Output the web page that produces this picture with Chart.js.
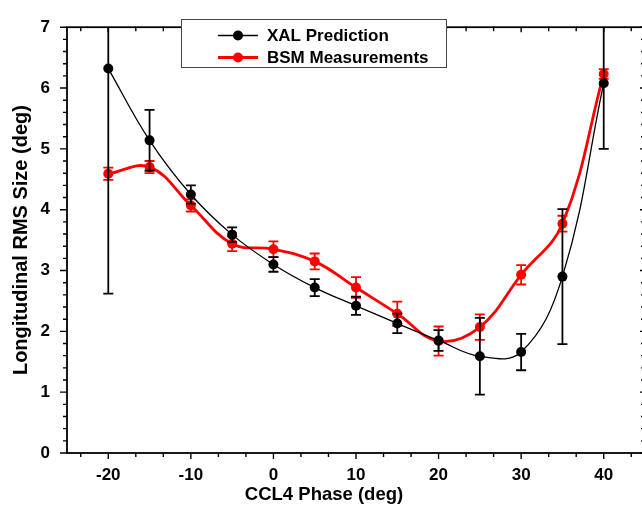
<!DOCTYPE html>
<html lang="en">
  <head>
    <meta charset="UTF-8" />
    <meta name="viewport" content="width=device-width, initial-scale=1.0" />
    <script src="https://cdn.jsdelivr.net/npm/chart.js@4.4.0/dist/chart.umd.min.js"></script>
    <title>Longitudinal RMS Size vs CCL4 Phase</title>
    <style>
      body {
        margin: 0;
        padding: 0;
        background: white;
        overflow: hidden;
      }

      .container {
        width: 650px;
        height: 506px;
      }
    </style>
  </head>
  <body>
    <div class="container">
      <canvas id="rmsChart" width="650" height="506"></canvas>
    </div>
    <script>
      // CCL4 phase (deg)
      const phase = [-20, -15, -10, -5, 0, 5, 10, 15, 20, 25, 30, 35, 40]
      // XAL prediction and its error
      const xal = [6.32, 5.14, 4.25, 3.59, 3.1, 2.72, 2.42, 2.13, 1.85, 1.59, 1.66, 2.9, 6.08]
      const xalErr = [3.7, 0.5, 0.15, 0.12, 0.12, 0.14, 0.15, 0.16, 0.17, 0.63, 0.3, 1.11, 1.08]
      // BSM measurements and their error
      const bsm = [4.59, 4.7, 4.07, 3.44, 3.35, 3.15, 2.72, 2.29, 1.84, 2.07, 2.93, 3.77, 6.23]
      const bsmErr = [0.1, 0.1, 0.1, 0.12, 0.13, 0.13, 0.17, 0.2, 0.24, 0.21, 0.16, 0.13, 0.08]

      const xTicks = [-20, -10, 0, 10, 20, 30, 40]
      const yTicks = [0, 1, 2, 3, 4, 5, 6, 7]

      const FONT = "'Liberation Sans', Arial, sans-serif"

      const points = (ys) => phase.map((x, i) => ({ x: x, y: ys[i] }))

      // vertical error bars with caps, drawn under each dataset's line
      const errorBars = {
        id: 'errorBars',
        beforeDatasetDraw(chart, args) {
          const ds = chart.data.datasets[args.index]
          if (!ds.errors) return
          const { ctx, chartArea: a, scales } = chart
          const x = scales.x
          const y = scales.y
          ctx.save()
          ctx.beginPath()
          ctx.rect(a.left, a.top, a.right - a.left, a.bottom - a.top)
          ctx.clip()
          ctx.strokeStyle = ds.borderColor
          ctx.lineWidth = 1.8
          ctx.beginPath()
          ds.data.forEach((p, i) => {
            const px = x.getPixelForValue(p.x)
            const hi = y.getPixelForValue(p.y + ds.errors[i])
            const lo = y.getPixelForValue(p.y - ds.errors[i])
            ctx.moveTo(px, hi)
            ctx.lineTo(px, lo)
            ctx.moveTo(px - 5, hi)
            ctx.lineTo(px + 5, hi)
            ctx.moveTo(px - 5, lo)
            ctx.lineTo(px + 5, lo)
          })
          ctx.stroke()
          ctx.restore()
        },
      }

      // box frame with major / minor ticks on all four sides
      const frameTicks = {
        id: 'frameTicks',
        afterDatasetsDraw(chart) {
          const { ctx, chartArea: a, scales } = chart
          const x = scales.x
          const y = scales.y
          ctx.save()
          ctx.strokeStyle = '#000'
          ctx.lineWidth = 1.8
          ctx.strokeRect(a.left, a.top, a.right - a.left, a.bottom - a.top)
          ctx.lineWidth = 1.4
          ctx.beginPath()
          const xt = (v, out, inn) => {
            const px = x.getPixelForValue(v)
            ctx.moveTo(px, a.bottom)
            ctx.lineTo(px, a.bottom + out)
            ctx.moveTo(px, a.top)
            ctx.lineTo(px, a.top + inn)
          }
          const yt = (v, out, inn) => {
            const py = y.getPixelForValue(v)
            ctx.moveTo(a.left, py)
            ctx.lineTo(a.left - out, py)
            ctx.moveTo(a.right, py)
            ctx.lineTo(a.right - inn, py)
          }
          for (let k = -25; k <= 45; k++) {
            const v = (k * 10) / 3
            if (v < x.min || v > x.max) continue
            if (k % 3 === 0) xt(v, 6, 5)
            else xt(v, 4, 4)
          }
          for (let k = 0; k <= 35; k++) {
            if (k % 5 === 0) yt(k / 5, 7, 5)
            else yt(k / 5, 4, 4)
          }
          ctx.stroke()
          ctx.restore()
        },
      }

      // legend box + x axis title
      const legendBox = {
        id: 'legendBox',
        afterDraw(chart) {
          const ctx = chart.ctx
          ctx.save()
          ctx.fillStyle = '#fff'
          ctx.fillRect(182, 19.5, 265, 48)
          ctx.strokeStyle = '#444'
          ctx.lineWidth = 1
          ctx.strokeRect(181.5, 19.5, 265, 48)
          const rows = [
            { label: 'XAL Prediction', color: '#000', width: 1.6, y: 35.5 },
            { label: 'BSM Measurements', color: '#ff0000', width: 2.8, y: 57.5 },
          ]
          rows.forEach((r) => {
            ctx.strokeStyle = r.color
            ctx.lineWidth = r.width
            ctx.beginPath()
            ctx.moveTo(218, r.y)
            ctx.lineTo(258, r.y)
            ctx.stroke()
            ctx.fillStyle = r.color
            ctx.beginPath()
            ctx.arc(238, r.y, 5, 0, Math.PI * 2)
            ctx.fill()
            ctx.fillStyle = '#000'
            ctx.font = 'bold 17px ' + FONT
            ctx.textAlign = 'left'
            ctx.textBaseline = 'middle'
            ctx.fillText(r.label, 267, r.y + 1)
          })
          ctx.fillStyle = '#000'
          ctx.font = 'bold 18.5px ' + FONT
          ctx.textAlign = 'center'
          ctx.textBaseline = 'middle'
          ctx.fillText('CCL4 Phase (deg)', 324, 495)
          ctx.restore()
        },
      }

      const ctx = document.getElementById('rmsChart').getContext('2d')
      const chart = new Chart(ctx, {
        type: 'line',
        data: {
          datasets: [
            {
              label: 'XAL Prediction',
              data: points(xal),
              errors: xalErr,
              borderColor: '#000000',
              backgroundColor: '#000000',
              borderWidth: 1.3,
              pointRadius: 5,
              pointBorderWidth: 0,
              tension: 0.4,
            },
            {
              label: 'BSM Measurements',
              data: points(bsm),
              errors: bsmErr,
              borderColor: '#ff0000',
              backgroundColor: '#ff0000',
              borderWidth: 2.8,
              pointRadius: 5,
              pointBorderWidth: 0,
              tension: 0.4,
            },
          ],
        },
        options: {
          responsive: false,
          animation: false,
          events: [],
          layout: { padding: { top: 16, right: 4, bottom: 0, left: 0 } },
          plugins: {
            legend: { display: false },
            tooltip: { enabled: false },
          },
          scales: {
            x: {
              type: 'linear',
              min: -25,
              max: 45,
              afterBuildTicks: (s) => {
                s.ticks = xTicks.map((v) => ({ value: v }))
              },
              afterFit: (s) => {
                s.height = 53
              },
              grid: { display: false, drawTicks: false },
              border: { display: false },
              ticks: {
                color: '#000',
                padding: 12,
                maxRotation: 0,
                font: { family: FONT, size: 17, weight: 'bold' },
              },
            },
            y: {
              min: 0,
              max: 7,
              afterBuildTicks: (s) => {
                s.ticks = yTicks.map((v) => ({ value: v }))
              },
              afterFit: (s) => {
                s.width = 67
              },
              grid: { display: false, drawTicks: false },
              border: { display: false },
              ticks: {
                color: '#000',
                padding: 17,
                font: { family: FONT, size: 17, weight: 'bold' },
              },
              title: {
                display: true,
                text: 'Longitudinal RMS Size (deg)',
                color: '#000',
                padding: { top: 9, bottom: 0 },
                font: { family: FONT, size: 20, weight: 'bold' },
              },
            },
          },
        },
        plugins: [errorBars, frameTicks, legendBox],
      })
    </script>
  </body>
</html>
